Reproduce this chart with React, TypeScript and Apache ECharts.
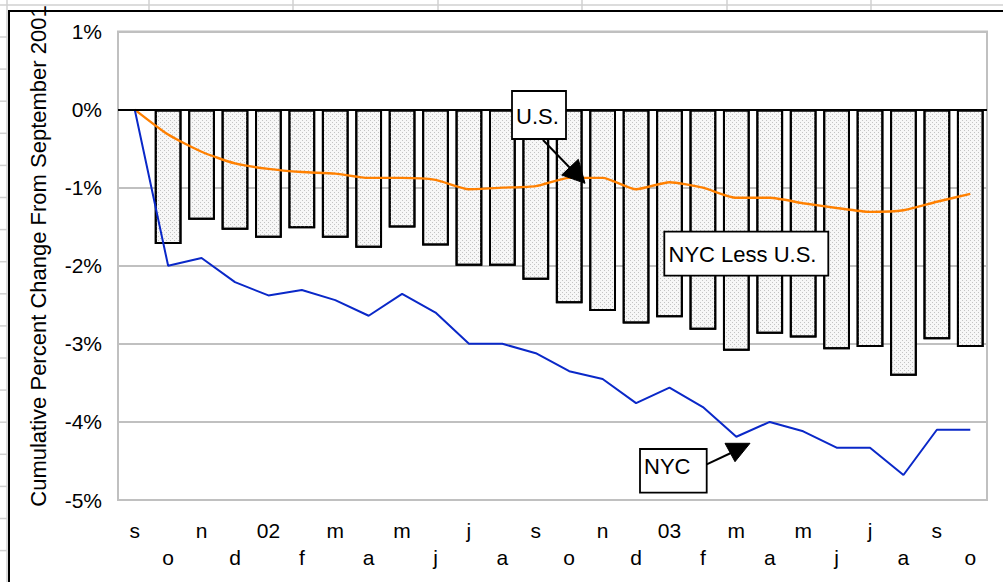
import React, { useEffect, useRef } from "react";
import * as echarts from "echarts";

// Month labels, September 2001 through October 2003
const categories = [
  "s", "o", "n", "d", "02", "f", "m", "a", "m", "j", "j", "a",
  "s", "o", "n", "d", "03", "f", "m", "a", "m", "j", "j", "a",
  "s", "o",
];

// Cumulative percent change since September 2001
const nycLessUs = [
  0, -1.72, -1.41, -1.54, -1.64, -1.52, -1.64, -1.77, -1.51, -1.74, -2.0, -2.0,
  -2.18, -2.48, -2.58, -2.74, -2.66, -2.82, -3.09, -2.87, -2.92, -3.07, -3.04,
  -3.41, -2.94, -3.04,
];
const us = [
  0, -0.32, -0.54, -0.69, -0.76, -0.8, -0.82, -0.875, -0.875, -0.9, -1.02, -1.0,
  -0.98, -0.875, -0.875, -1.02, -0.93, -1.0, -1.13, -1.13, -1.2, -1.26, -1.31,
  -1.29, -1.18, -1.08,
];
const nyc = [
  0, -2.0, -1.9, -2.21, -2.38, -2.31, -2.44, -2.64, -2.36, -2.6, -3.0, -3.0,
  -3.12, -3.35, -3.45, -3.76, -3.56, -3.81, -4.19, -4.0, -4.12, -4.33, -4.33,
  -4.68, -4.1, -4.1,
];

const yTicks = { min: -5, max: 1, step: 1 };
const yTitle = "Cumulative Percent Change From September 2001";

const FONT = "'Liberation Sans', Arial, Helvetica, sans-serif";
const GRID_GREY = "#c0c0c0";

function sheetLines() {
  // worksheet cell borders around the embedded chart
  const items: any[] = [];
  items.push({
    type: "line",
    shape: { x1: 0, y1: 5, x2: 1003, y2: 5 },
    style: { stroke: "#d0d0d0", lineWidth: 1.5 },
    silent: true,
  });
  items.push({
    type: "line",
    shape: { x1: 7, y1: 0, x2: 7, y2: 582 },
    style: { stroke: "#d0d0d0", lineWidth: 1.5 },
    silent: true,
  });
  [149, 293, 438, 582, 727, 871].forEach((x) =>
    items.push({
      type: "line",
      shape: { x1: x, y1: 0, x2: x, y2: 11 },
      style: { stroke: "#d0d0d0", lineWidth: 1.5 },
      silent: true,
    })
  );
  for (let y = 37; y < 582; y += 32.1) {
    items.push({
      type: "line",
      shape: { x1: 0, y1: y, x2: 7, y2: y },
      style: { stroke: "#d0d0d0", lineWidth: 1.5 },
      silent: true,
    });
  }
  return items;
}

function labelBox(x: number, y: number, w: number, h: number, text: string, tx: number, ty: number) {
  return [
    {
      type: "rect",
      shape: { x, y, width: w, height: h },
      style: { fill: "#fff", stroke: "#000", lineWidth: 1.8 },
      z: 100,
    },
    {
      type: "text",
      x: tx,
      y: ty,
      style: {
        text,
        fill: "#000",
        fontSize: 22,
        fontFamily: FONT,
        textAlign: "left",
        textVerticalAlign: "middle",
      },
      z: 101,
    },
  ];
}

function arrow(x1: number, y1: number, x2: number, y2: number, head: number[][]) {
  return [
    {
      type: "line",
      shape: { x1, y1, x2, y2 },
      style: { stroke: "#000", lineWidth: 2 },
      z: 100,
    },
    {
      type: "polygon",
      shape: { points: head },
      style: { fill: "#000", stroke: "#000", lineWidth: 1 },
      z: 100,
    },
  ];
}

export default function App() {
  const ref = useRef<HTMLDivElement>(null);

  useEffect(() => {
    if (!ref.current) return;
    const chart = echarts.init(ref.current, undefined, { renderer: "svg" });

    // a zero-height bar gets no outline, so the baseline month stays empty
    const barData = nycLessUs.map((v) =>
      v === 0 ? { value: v, itemStyle: { borderWidth: 0 } } : v
    );

    const option: any = {
      animation: false,
      backgroundColor: "#fff",
      textStyle: { fontFamily: FONT },
      grid: {
        left: 118,
        right: 16,
        top: 31.5,
        bottom: 82,
        show: true,
        borderColor: GRID_GREY,
        borderWidth: 2,
        backgroundColor: "#fff",
        containLabel: false,
      },
      xAxis: {
        type: "category",
        data: categories,
        boundaryGap: true,
        axisLine: { show: false, onZero: false },
        axisTick: { show: false },
        splitLine: { show: false },
        axisLabel: {
          interval: 0,
          margin: 17,
          color: "#000",
          fontSize: 21,
          fontFamily: FONT,
          lineHeight: 26.7,
          verticalAlign: "top",
          formatter: (v: string, i: number) => (i % 2 ? "\n" + v : v),
        },
      },
      yAxis: {
        type: "value",
        min: yTicks.min,
        max: yTicks.max,
        interval: yTicks.step,
        axisLine: { show: false },
        axisTick: { show: false },
        splitLine: { lineStyle: { color: GRID_GREY, width: 2 } },
        axisLabel: {
          margin: 16,
          color: "#000",
          fontSize: 21,
          fontFamily: FONT,
          formatter: (v: number) => `${v}%`,
        },
      },
      series: [
        {
          name: "NYC Less U.S.",
          type: "bar",
          data: barData,
          barWidth: "80%",
          z: 2,
          itemStyle: {
            color: "#f7f7f7",
            borderColor: "#000",
            borderWidth: 2,
            decal: {
              symbol: "rect",
              symbolSize: 1,
              color: "#c4c4c4",
              dashArrayX: [
                [1, 3],
                [0, 2, 1, 1],
              ],
              dashArrayY: [1, 1],
              rotation: 0,
            },
          },
          markLine: {
            silent: true,
            symbol: "none",
            label: { show: false },
            lineStyle: { color: "#000", width: 2, type: "solid" },
            data: [{ yAxis: 0 }],
          },
        },
        {
          name: "U.S.",
          type: "line",
          data: us,
          symbol: "none",
          smooth: 0.2,
          z: 4,
          lineStyle: { color: "#ff8000", width: 2.4 },
        },
        {
          name: "NYC",
          type: "line",
          data: nyc,
          symbol: "none",
          z: 4,
          lineStyle: { color: "#0a28c8", width: 2 },
        },
      ],
      graphic: [
        ...sheetLines(),
        {
          type: "rect",
          shape: { x: 9, y: 11, width: 1100, height: 700 },
          style: { fill: "none", stroke: "#000", lineWidth: 2 },
          silent: true,
        },
        {
          type: "text",
          x: 38.5,
          y: 506.7,
          rotation: Math.PI / 2,
          style: {
            text: yTitle,
            fill: "#000",
            fontSize: 22,
            fontFamily: FONT,
            textAlign: "left",
            textVerticalAlign: "middle",
          },
        },
        ...labelBox(512, 91, 54, 48, "U.S.", 516, 116),
        ...arrow(543, 140, 572, 170, [
          [561.7, 175],
          [578.3, 159.3],
          [585, 183.3],
        ]),
        ...labelBox(664.3, 231.7, 164, 44, "NYC Less U.S.", 668.5, 254),
        ...labelBox(640, 449, 66.7, 43.7, "NYC", 644, 466),
        ...arrow(706.7, 464.3, 733, 452, [
          [725, 443.3],
          [750, 443.3],
          [735, 461.7],
        ]),
      ],
    };

    chart.setOption(option);
    return () => chart.dispose();
  }, []);

  return (
    <div
      ref={ref}
      style={{ position: "absolute", left: 0, top: 0, width: 1003, height: 582 }}
    />
  );
}
